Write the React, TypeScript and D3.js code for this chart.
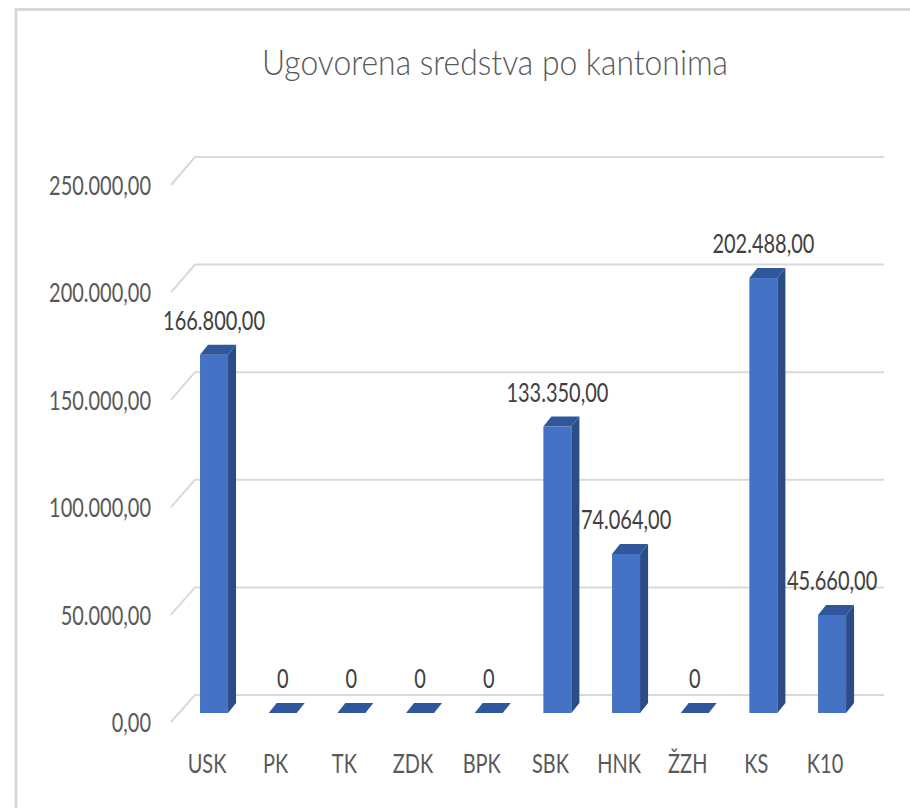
import React from 'react'
import * as d3 from 'd3'

const categories = ['USK', 'PK', 'TK', 'ZDK', 'BPK', 'SBK', 'HNK', 'ŽZH', 'KS', 'K10']
const values = [166800, 0, 0, 0, 0, 133350, 74064, 0, 202488, 45660]
const yTicks = [0, 50000, 100000, 150000, 200000, 250000]
const title = 'Ugovorena sredstva po kantonima'

const font = 'Lato, "Open Sans", sans-serif'
const labelSize = 27
const squeeze = 0.74
const depth = { dx: 8, dy: -10 }
const floorY = 713

const bs = d3.formatLocale({ decimal: ',', thousands: '.', grouping: [3], currency: ['', ''] })
const fmt = bs.format(',.2f')

const yFront = d3.scaleLinear().domain([0, 250000]).range([722, 185])
const yBack = d3.scaleLinear().domain([0, 250000]).range([695, 157])
const yBar = d3.scaleLinear().domain([0, 250000]).range([floorY, floorY - 537])

const xScale = d3
  .scaleBand()
  .domain(categories)
  .range([179.7, 866.4])
  .paddingInner(0.592)
  .paddingOuter(0.296)

function SText({ x, y, sx = squeeze, size = labelSize, anchor = 'middle', fill = '#595959', weight = 400, children }: any) {
  return (
    <text
      transform={`translate(${x},${y}) scale(${sx},1)`}
      textAnchor={anchor}
      fontFamily={font}
      fontSize={size}
      fontWeight={weight}
      fill={fill}
    >
      {children}
    </text>
  )
}

function Grid() {
  return (
    <g>
      {yTicks.map(t => (
        <g key={t}>
          <path
            d={`M171,${yFront(t)} L195,${yBack(t)} L884,${yBack(t)}`}
            fill="none"
            stroke="#d9d9d9"
            strokeWidth={2}
          />
          <SText x={151} y={yFront(t) + 10} anchor="end">
            {fmt(t)}
          </SText>
        </g>
      ))}
    </g>
  )
}

function Bar({ cat, value }: { cat: string; value: number }) {
  const x = xScale(cat) as number
  const w = xScale.bandwidth()
  const top = yBar(value)
  const { dx, dy } = depth
  const topFace = `M${x},${top} L${x + dx},${top + dy} L${x + w + dx},${top + dy} L${x + w},${top} Z`
  return (
    <g>
      {value > 0 && (
        <>
          <rect x={x} y={top} width={w} height={floorY - top} fill="#4472C4" />
          <path
            d={`M${x + w},${top} L${x + w + dx},${top + dy} L${x + w + dx},${floorY + dy} L${x + w},${floorY} Z`}
            fill="#2B4C86"
          />
        </>
      )}
      <path d={topFace} fill="#30569C" />
      <SText x={x + w / 2} y={top + dy - 15} fill="#404040">
        {value === 0 ? '0' : fmt(value)}
      </SText>
    </g>
  )
}

export default function App() {
  return (
    <svg
      width={910}
      height={808}
      style={{ position: 'absolute', left: 0, top: 0, background: '#fff' }}
    >
      <rect width={910} height={808} fill="#fff" />
      <path d="M16,808 V9.5 H910" fill="none" stroke="#d9d9d9" strokeWidth={3} />
      <SText x={495} y={75} size={35} sx={0.91} weight={300}>
        {title}
      </SText>
      <Grid />
      {categories.map((c, i) => (
        <Bar key={c} cat={c} value={values[i]} />
      ))}
      {categories.map(c => (
        <SText key={c} x={(xScale(c) as number) + xScale.bandwidth() / 2 - 7} y={773}>
          {c}
        </SText>
      ))}
    </svg>
  )
}
